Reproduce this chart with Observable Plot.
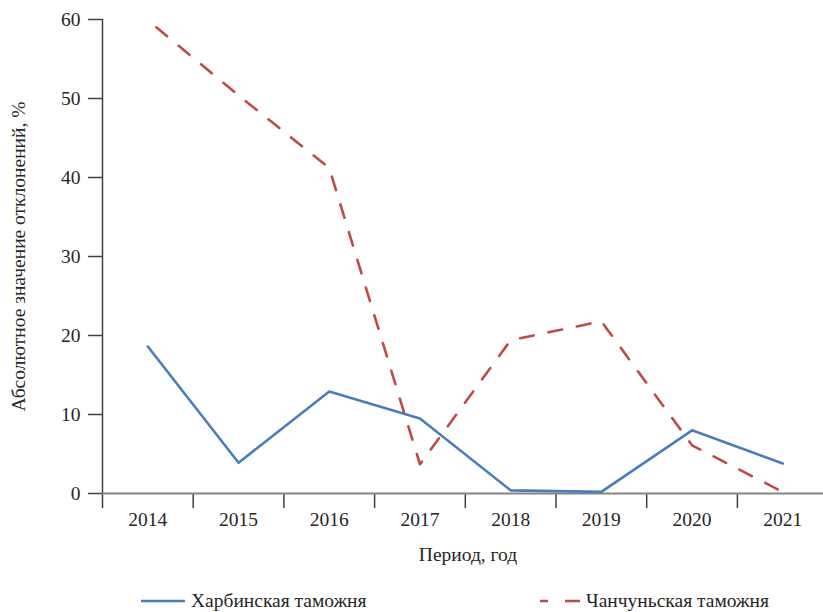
<!DOCTYPE html>
<html>
<head>
<meta charset="utf-8">
<script src="https://cdn.jsdelivr.net/npm/d3@7"></script>
<script src="https://cdn.jsdelivr.net/npm/@observablehq/plot@0.6"></script>
<style>
  html, body { margin: 0; padding: 0; background: #fff; }
  #wrap { position: relative; width: 823px; height: 612px; overflow: hidden; font-family: "Liberation Serif", "Times New Roman", "DejaVu Serif", serif; }
  #legend { position: absolute; left: 0; top: 590px; width: 823px; height: 22px; font-size: 19.5px; color: #262626; }
  .item { position: absolute; top: 0; height: 22px; display: flex; align-items: center; white-space: nowrap; }
  .item svg { margin-right: 6px; }
</style>
</head>
<body>
<div id="wrap">
  <div id="chart"></div>
  <div id="legend"></div>
</div>
<script>
const years = [2014, 2015, 2016, 2017, 2018, 2019, 2020, 2021];
const kharbin = [18.6, 3.9, 12.9, 9.5, 0.4, 0.2, 8.0, 3.8];
const changchun = [59.9, 50.4, 41.2, 3.7, 19.4, 21.8, 6.1, 0.2];
const seriesNames = ["Харбинская таможня", "Чанчуньская таможня"];
const yTicks = [0, 10, 20, 30, 40, 50, 60];
const boundaries = [2013.5, 2014.5, 2015.5, 2016.5, 2017.5, 2018.5, 2019.5, 2020.5, 2021.5];
const yTitle = "Абсолютное значение отклонений, %";
const xTitle = "Период, год";

const blue = "#4a7ebb";
const red = "#be4b48";
const fontStack = '"Liberation Serif", "Times New Roman", "DejaVu Serif", serif';

const rowsK = years.map((y, i) => ({year: y, value: kharbin[i]}));
const rowsC = years.map((y, i) => ({year: y, value: changchun[i]}));

const chart = Plot.plot({
  width: 823,
  height: 590,
  marginTop: 19,
  marginBottom: 97,
  marginLeft: 102,
  marginRight: 0,
  style: {fontFamily: fontStack, fontSize: "19.5px", color: "#262626", background: "#fff", overflow: "visible"},
  x: {domain: [2013.5, 2021.5], range: [102, 827.6], axis: null},
  y: {domain: [0, 60], axis: null},
  marks: [
    Plot.axisY(yTicks, {tickSize: 14, tickPadding: 8, stroke: "#404040", strokeWidth: 1.5, fontSize: 19.5, fontFamily: fontStack, fill: "#262626", label: null}),
    Plot.ruleX([2013.5], {y1: 0, y2: 60, stroke: "#404040", strokeWidth: 1.5}),
    Plot.axisX(boundaries, {tickSize: 15, tickFormat: () => "", stroke: "#404040", strokeWidth: 1.5, label: null}),
    Plot.axisX(years, {tickSize: 0, tickPadding: 19, tickFormat: d => String(d), fontSize: 19.5, fontFamily: fontStack, fill: "#262626", label: null}),
    Plot.ruleY([0], {stroke: "#858585", strokeWidth: 2}),
    Plot.line(rowsK, {x: "year", y: "value", stroke: blue, strokeWidth: 2.6, strokeLinejoin: "round"}),
    Plot.line(rowsC, {x: "year", y: "value", stroke: red, strokeWidth: 2.6, strokeDasharray: "14,15", strokeDashoffset: 18, strokeLinejoin: "round"}),
    Plot.text([yTitle], {frameAnchor: "left", textAnchor: "middle", rotate: -90, dx: -84, fontSize: 19.5, fontFamily: fontStack, fill: "#262626"}),
    Plot.text([xTitle], {frameAnchor: "bottom", dy: 67, dx: 5, fontSize: 19.5, fontFamily: fontStack, fill: "#262626"})
  ]
});
document.getElementById("chart").appendChild(chart);

const legend = document.getElementById("legend");
const items = [
  {name: seriesNames[0], color: blue, dash: null, left: 141},
  {name: seriesNames[1], color: red, dash: "8,17,15,60", left: 540}
];
for (const it of items) {
  const div = document.createElement("div");
  div.className = "item";
  div.style.left = it.left + "px";
  const w = it.dash ? 40 : 44;
  div.innerHTML = `<svg width="${w}" height="6"><line x1="0" y1="3" x2="${w}" y2="3" stroke="${it.color}" stroke-width="2.6" ${it.dash ? `stroke-dasharray="${it.dash}"` : ""}/></svg><span>${it.name}</span>`;
  legend.appendChild(div);
}
</script>
</body>
</html>
